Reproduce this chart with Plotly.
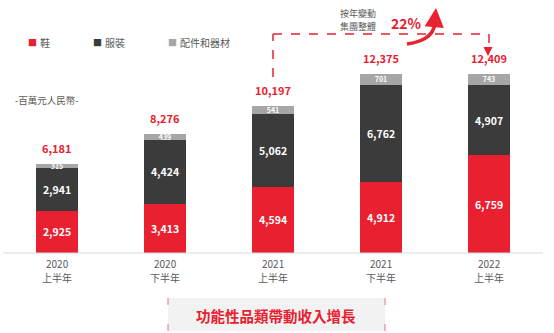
import plotly.graph_objects as go

years = ["2020", "2020", "2021", "2021", "2022"]
halves = ["上半年", "下半年", "上半年", "下半年", "上半年"]
shoes = [2925, 3413, 4594, 4912, 6759]
apparel = [2941, 4424, 5062, 6762, 4907]
accessories = [315, 439, 541, 701, 743]
totals = [6181, 8276, 10197, 12375, 12409]
series_names = ["鞋", "服裝", "配件和器材"]

RED = "#E8202F"
DARK = "#3B3B3B"
GRAY = "#A6A6A6"
TXT = "#595959"
FONT = "Noto Sans CJK TC"

x = list(range(len(years)))
fig = go.Figure()
for vals, col, name, fs in [(shoes, RED, series_names[0], 10.5),
                            (apparel, DARK, series_names[1], 10.5),
                            (accessories, GRAY, series_names[2], 7)]:
    fig.add_trace(go.Bar(
        x=x, y=vals, name=name, marker=dict(color=col, line=dict(width=0)),
        width=0.39, text=[f"{v:,}" for v in vals], textposition="inside",
        insidetextanchor="middle", constraintext="none",
        textfont=dict(color="white", size=fs, family=FONT, weight="bold"),
        showlegend=False))

PX = 0.01443  # px per unit
def ypx(py):
    return (253 - py) / PX
def xpx(px):
    return (px - 57) / 108
def pyp(py):
    return (253 - py) / 253

ann = []
for xi, t in zip(x, totals):
    ann.append(dict(x=xi, y=t, xref="x", yref="y", text=f"{t:,}", showarrow=False,
                    xanchor="center", yanchor="bottom", yshift=6,
                    font=dict(size=11, color=RED, family=FONT, weight="bold")))
for xi, yr, hf in zip(x, years, halves):
    ann.append(dict(x=xi, y=pyp(263), xref="x", yref="paper", text=yr, showarrow=False,
                    xanchor="center", yanchor="middle", font=dict(size=10, color=TXT, family=FONT)))
    ann.append(dict(x=xi, y=pyp(277), xref="x", yref="paper", text=hf, showarrow=False,
                    xanchor="center", yanchor="middle", font=dict(size=10, color=TXT, family=FONT)))
for px, col, name in [(32.5, RED, series_names[0]), (97.5, DARK, series_names[1]), (172.5, GRAY, series_names[2])]:
    ann.append(dict(x=xpx(px), y=ypx(42), xref="x", yref="y", xanchor="center", yanchor="middle",
                    text="■", showarrow=False, font=dict(size=9, color=col, family=FONT)))
    ann.append(dict(x=xpx(px + 5), y=ypx(42), xref="x", yref="y", xanchor="left", yanchor="middle",
                    text=name, showarrow=False, font=dict(size=10, color=TXT, family=FONT)))
ann.append(dict(x=xpx(47), y=ypx(100), xref="x", yref="y", text="-百萬元人民幣-", showarrow=False,
                xanchor="center", yanchor="middle", font=dict(size=9.5, color=TXT, family=FONT)))
for py, line in [(13, "按年變動"), (26, "集團整體")]:
    ann.append(dict(x=xpx(358), y=ypx(py), xref="x", yref="y", text=line, showarrow=False,
                    xanchor="center", yanchor="middle", borderpad=0,
                    font=dict(size=9, color=TXT, family=FONT)))
ann.append(dict(x=xpx(406), y=ypx(23), xref="x", yref="y", text="22%", showarrow=False,
                xanchor="center", yanchor="middle",
                font=dict(size=14, color=RED, family=FONT, weight="bold")))
ann.append(dict(x=xpx(488), y=ypx(56), xref="x", yref="y", ax=xpx(488), ay=ypx(46), axref="x", ayref="y",
                text="", showarrow=True, arrowhead=2, arrowsize=1.2, arrowwidth=1.5, arrowcolor=RED))
ann.append(dict(x=xpx(436), y=ypx(8), xref="x", yref="y", ax=xpx(435), ay=ypx(19), axref="x", ayref="y",
                text="", showarrow=True, arrowhead=2, arrowsize=1.1, arrowwidth=3.5, arrowcolor=RED))
ann.append(dict(x=(276 - 3) / 540, y=pyp(315), xref="paper", yref="paper",
                text="功能性品類帶動收入增長", showarrow=False, xanchor="center", yanchor="middle",
                font=dict(size=14.5, color=RED, family=FONT, weight="bold")))

shapes = [
    dict(type="line", xref="x", yref="y", x0=2, x1=2, y0=ypx(77), y1=ypx(34),
         line=dict(color=RED, width=1.5, dash="dash")),
    dict(type="line", xref="x", yref="y", x0=2, x1=4, y0=ypx(34), y1=ypx(34),
         line=dict(color=RED, width=1.5, dash="dash")),
    dict(type="line", xref="x", yref="y", x0=4, x1=4, y0=ypx(34), y1=ypx(48),
         line=dict(color=RED, width=1.5, dash="dash")),
    dict(type="path", xref="x", yref="y",
         path=f"M {xpx(407)},{ypx(44)} Q {xpx(437)},{ypx(40)} {xpx(435)},{ypx(18)}",
         line=dict(color=RED, width=3.5)),
    dict(type="line", xref="paper", yref="paper", x0=0, x1=1, y0=0, y1=0,
         line=dict(color="#D9D9D9", width=1)),
    dict(type="rect", xref="paper", yref="paper", x0=(168 - 3) / 540, x1=(385 - 3) / 540,
         y0=pyp(331), y1=pyp(298), fillcolor="#F2F2F2", line=dict(width=0), layer="below"),
]
bl, br = (168 - 3) / 540, (385 - 3) / 540
bt, bb = pyp(298), pyp(331)
for xx in (bl, br):
    shapes.append(dict(type="line", xref="paper", yref="paper", x0=xx, x1=xx, y0=bt, y1=bt - 7 / 253,
                       line=dict(color="#E8707A", width=1)))
    shapes.append(dict(type="line", xref="paper", yref="paper", x0=xx, x1=xx, y0=bb, y1=bb + 7 / 253,
                       line=dict(color="#E8707A", width=1)))

fig.update_layout(
    width=554, height=333, barmode="stack",
    margin=dict(l=3, r=11, t=0, b=80),
    paper_bgcolor="white", plot_bgcolor="white",
    xaxis=dict(range=[-0.5, 4.5], showgrid=False, zeroline=False, showline=False,
               ticks="", showticklabels=False),
    yaxis=dict(range=[0, 253 / PX], visible=False, showgrid=False, zeroline=False),
    annotations=ann, shapes=shapes, font=dict(family=FONT),
)
fig.write_html("out.html")
